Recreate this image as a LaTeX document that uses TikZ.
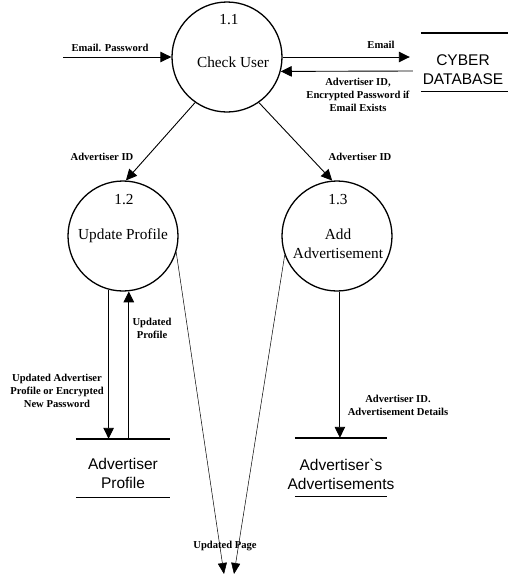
\documentclass[tikz,border=0pt]{standalone}
\usepackage{fontspec}
\setmainfont{Liberation Serif}
\newfontfamily\storefont{Liberation Sans}
\usetikzlibrary{arrows.meta}

\tikzset{
  proc/.style={circle, draw, line width=1.3pt, minimum size=110pt, inner sep=0pt},
  flow/.style={-{Triangle[length=11pt,width=10.5pt]}, line width=0.9pt},
  pageflow/.style={-{Triangle[length=11pt,width=9pt]}, line width=0.5pt},
  storebox/.style={minimum width=#1, minimum height=58pt, inner sep=0pt},
  storeline/.style={line width=1.4pt},
  lbl/.style={font=\bfseries\fontsize{10.6}{13}\selectfont, align=center, inner sep=0pt},
  ptext/.style={font=\fontsize{15.3}{18.5}\selectfont, align=center, inner sep=0pt},
  stext/.style={font=\storefont\fontsize{15.5}{19}\selectfont, align=center, inner sep=0pt}
}

\begin{document}
\begin{tikzpicture}[x=1pt, y=-1pt]
\useasboundingbox (0,0) rectangle (508,574);

% processes
\node[proc] (p11) at (227,57) {};
\node[ptext] (n11) at (229,20) {1.1};
\node[ptext] (t11) at (233,62) {Check User};

\node[proc] (p12) at (123,236) {};
\node[ptext] (n12) at (124,200) {1.2};
\node[ptext] (t12) at (123,236) {Update Profile};

\node[proc] (p13) at (337,236) {};
\node[ptext] (n13) at (338,200) {1.3};
\node[ptext] (t13) at (338,244) {Add\\Advertisement};

% data stores
\node[storebox=87pt] (db) at (464.5,62) {};
\draw[storeline] (db.north west) -- (db.north east) (db.south west) -- (db.south east);
\node[stext] (tdb) at (463,70) {CYBER\\DATABASE};

\node[storebox=94pt] (st1) at (123,468) {};
\draw[storeline] (st1.north west) -- (st1.north east) (st1.south west) -- (st1.south east);
\node[stext] (tst1) at (123,473) {Advertiser\\Profile};

\node[storebox=92pt] (st2) at (341,467) {};
\draw[storeline] (st2.north west) -- (st2.north east) (st2.south west) -- (st2.south east);
\node[stext] (tst2) at (341,474) {Advertiser`s\\Advertisements};

% external input and output ends
\coordinate (src) at (63,57);
\coordinate (out1) at (224,574);
\coordinate (out2) at (234,574);

% flows
\draw[flow] (src) -- (p11.west);
\node[lbl] (lin) at (110,48) {Email. Password};

\draw[flow] (p11.east) -- ([xshift=-11pt,yshift=5pt]db.west);
\node[lbl] (lem) at (381,45) {Email};

\draw[flow] ([xshift=-8pt,yshift=-9pt]db.west) -- (p11.-15);
\node[lbl] (lret) at (358,95) {Advertiser ID,\\Encrypted Password if\\Email Exists};

\draw[flow] (p11.235) -- (p12.87);
\node[lbl] (lid1) at (102,157) {Advertiser ID};

\draw[flow] (p11.-55) -- (p13.95);
\node[lbl] (lid2) at (360,157) {Advertiser ID};

\draw[flow] (p12.255) -- (p12.255 |- st1.north);
\node[lbl] (lupd) at (57,391) {Updated Advertiser\\Profile or Encrypted\\New Password};

\draw[flow] (p12.276 |- st1.north) -- (p12.276);
\node[lbl] (lprof) at (152,328) {Updated\\Profile};

\draw[flow] (p13.273) -- (p13.273 |- st2.north);
\node[lbl] (ladd) at (398,405) {Advertiser ID.\\Advertisement Details};

\draw[pageflow] (p12.-17) -- (out1);
\draw[pageflow] (p13.200) -- (out2);
\node[lbl] (lpage) at (225,546) {Updated Page};
\end{tikzpicture}
\end{document}
